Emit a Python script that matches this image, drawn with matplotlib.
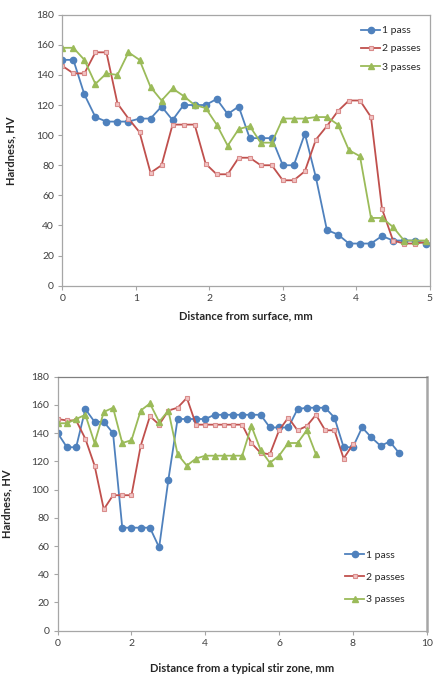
import numpy as np
import matplotlib
matplotlib.use("Agg")
import matplotlib.pyplot as plt

plt.rcParams['font.family'] = ['Lato', 'DejaVu Sans']

# ---- Top chart data: distance from surface (mm), step 0.15 ----
top_x = [round(0.15 * i, 2) for i in range(34)]
top_1pass = [150, 150, 127, 112, 109, 109, 109, 111, 111, 119, 110, 120, 120, 120, 124, 114, 119,
             98, 98, 98, 80, 80, 101, 72, 37, 34, 28, 28, 28, 33, 30, 30, 30, 28]
top_2pass = [146, 141, 141, 155, 155, 121, 111, 102, 75, 80, 107, 107, 107, 81, 74, 74, 85,
             85, 80, 80, 70, 70, 76, 97, 106, 116, 123, 123, 112, 51, 30, 28, 28, 29]
top_3pass = [158, 158, 150, 134, 141, 140, 155, 150, 132, 123, 131, 126, 120, 118, 107, 93, 104,
             106, 95, 95, 111, 111, 111, 112, 112, 107, 90, 86, 45, 45, 39, 30, 30, 30]

# ---- Bottom chart data: distance from a typical stir zone (mm), step 0.25 ----
bot_1pass = [140, 130, 130, 157, 148, 148, 140, 73, 73, 73, 73, 59, 107, 150, 150, 150, 150,
             153, 153, 153, 153, 153, 153, 144, 144, 144, 157, 158, 158, 158, 151, 130, 130,
             144, 137, 131, 134, 126]
bot_2pass = [150, 149, 149, 136, 117, 86, 96, 96, 96, 131, 152, 146, 156, 158, 165, 146, 146,
             146, 146, 146, 146, 133, 126, 125, 142, 151, 142, 145, 153, 142, 142, 122, 132]
bot_3pass = [147, 147, 150, 153, 133, 155, 158, 133, 135, 156, 161, 148, 156, 125, 117, 122,
             124, 124, 124, 124, 124, 145, 128, 119, 124, 133, 133, 142, 125]
bot_x1 = [0.25 * i for i in range(len(bot_1pass))]
bot_x2 = [0.25 * i for i in range(len(bot_2pass))]
bot_x3 = [0.25 * i for i in range(len(bot_3pass))]

labels = ["1 pass", "2 passes", "3 passes"]
blue, red, green = "#4F81BD", "#C0504D", "#9BBB59"
tick_color = "#404040"
spine_color = "#A6A6A6"

fig = plt.figure(figsize=(4.39, 6.77), dpi=100)
ax1 = fig.add_axes([0.142, 0.578, 0.837, 0.4003])
ax2 = fig.add_axes([0.1314, 0.0684, 0.8405, 0.3752])


def style(ax):
    for s in ax.spines.values():
        s.set_color(spine_color)
        s.set_linewidth(0.9)
    ax.tick_params(axis='both', direction='out', length=3, width=0.8, color=spine_color,
                   labelsize=7.5, labelcolor=tick_color, pad=3)
    ax.set_ylim(0, 180)
    ax.set_yticks(np.arange(0, 181, 20))


def plot_series(ax, x1, y1, x2, y2, x3, y3):
    ax.plot(x1, y1, color=blue, lw=1.3, marker='o', ms=4.5, mfc=blue, mec=blue, label=labels[0])
    ax.plot(x2, y2, color=red, lw=1.3, marker='s', ms=3.5, mfc="#F2C4C4", mec="#D98C8B",
            mew=0.8, label=labels[1])
    ax.plot(x3, y3, color=green, lw=1.3, marker='^', ms=5, mfc=green, mec=green, label=labels[2])


plot_series(ax1, top_x, top_1pass, top_x, top_2pass, top_x, top_3pass)
style(ax1)
ax1.set_xlim(0, 5)
ax1.set_xticks(range(0, 6))
ax1.set_xlabel("Distance from surface, mm", fontsize=8, fontweight='bold', color="#262626", labelpad=5)
ax1.set_ylabel("Hardness, HV", fontsize=8, fontweight='bold', color="#262626", labelpad=14)
leg1 = ax1.legend(loc='upper right', bbox_to_anchor=(0.995, 0.985), frameon=False, fontsize=7.5,
                  handlelength=1.8, handletextpad=0.2, labelspacing=0.85, borderaxespad=0.3)
for t in leg1.get_texts():
    t.set_color("#262626")

plot_series(ax2, bot_x1, bot_1pass, bot_x2, bot_2pass, bot_x3, bot_3pass)
style(ax2)
ax2.set_xlim(0, 10)
ax2.set_xticks(range(0, 11, 2))
ax2.spines['right'].set_linewidth(1.8)
ax2.spines['top'].set_color("#808080")
ax2.set_xlabel("Distance from a typical stir zone, mm", fontsize=8, fontweight='bold',
               color="#262626", labelpad=11)
ax2.set_ylabel("Hardness, HV", fontsize=8, fontweight='bold', color="#262626", labelpad=14)
leg2 = ax2.legend(loc='lower right', bbox_to_anchor=(0.96, 0.075), frameon=False, fontsize=7.5,
                  handlelength=1.8, handletextpad=0.2, labelspacing=1.25, borderaxespad=0.3)
for t in leg2.get_texts():
    t.set_color("#262626")

fig.savefig("out.png", dpi=100, facecolor="white")
